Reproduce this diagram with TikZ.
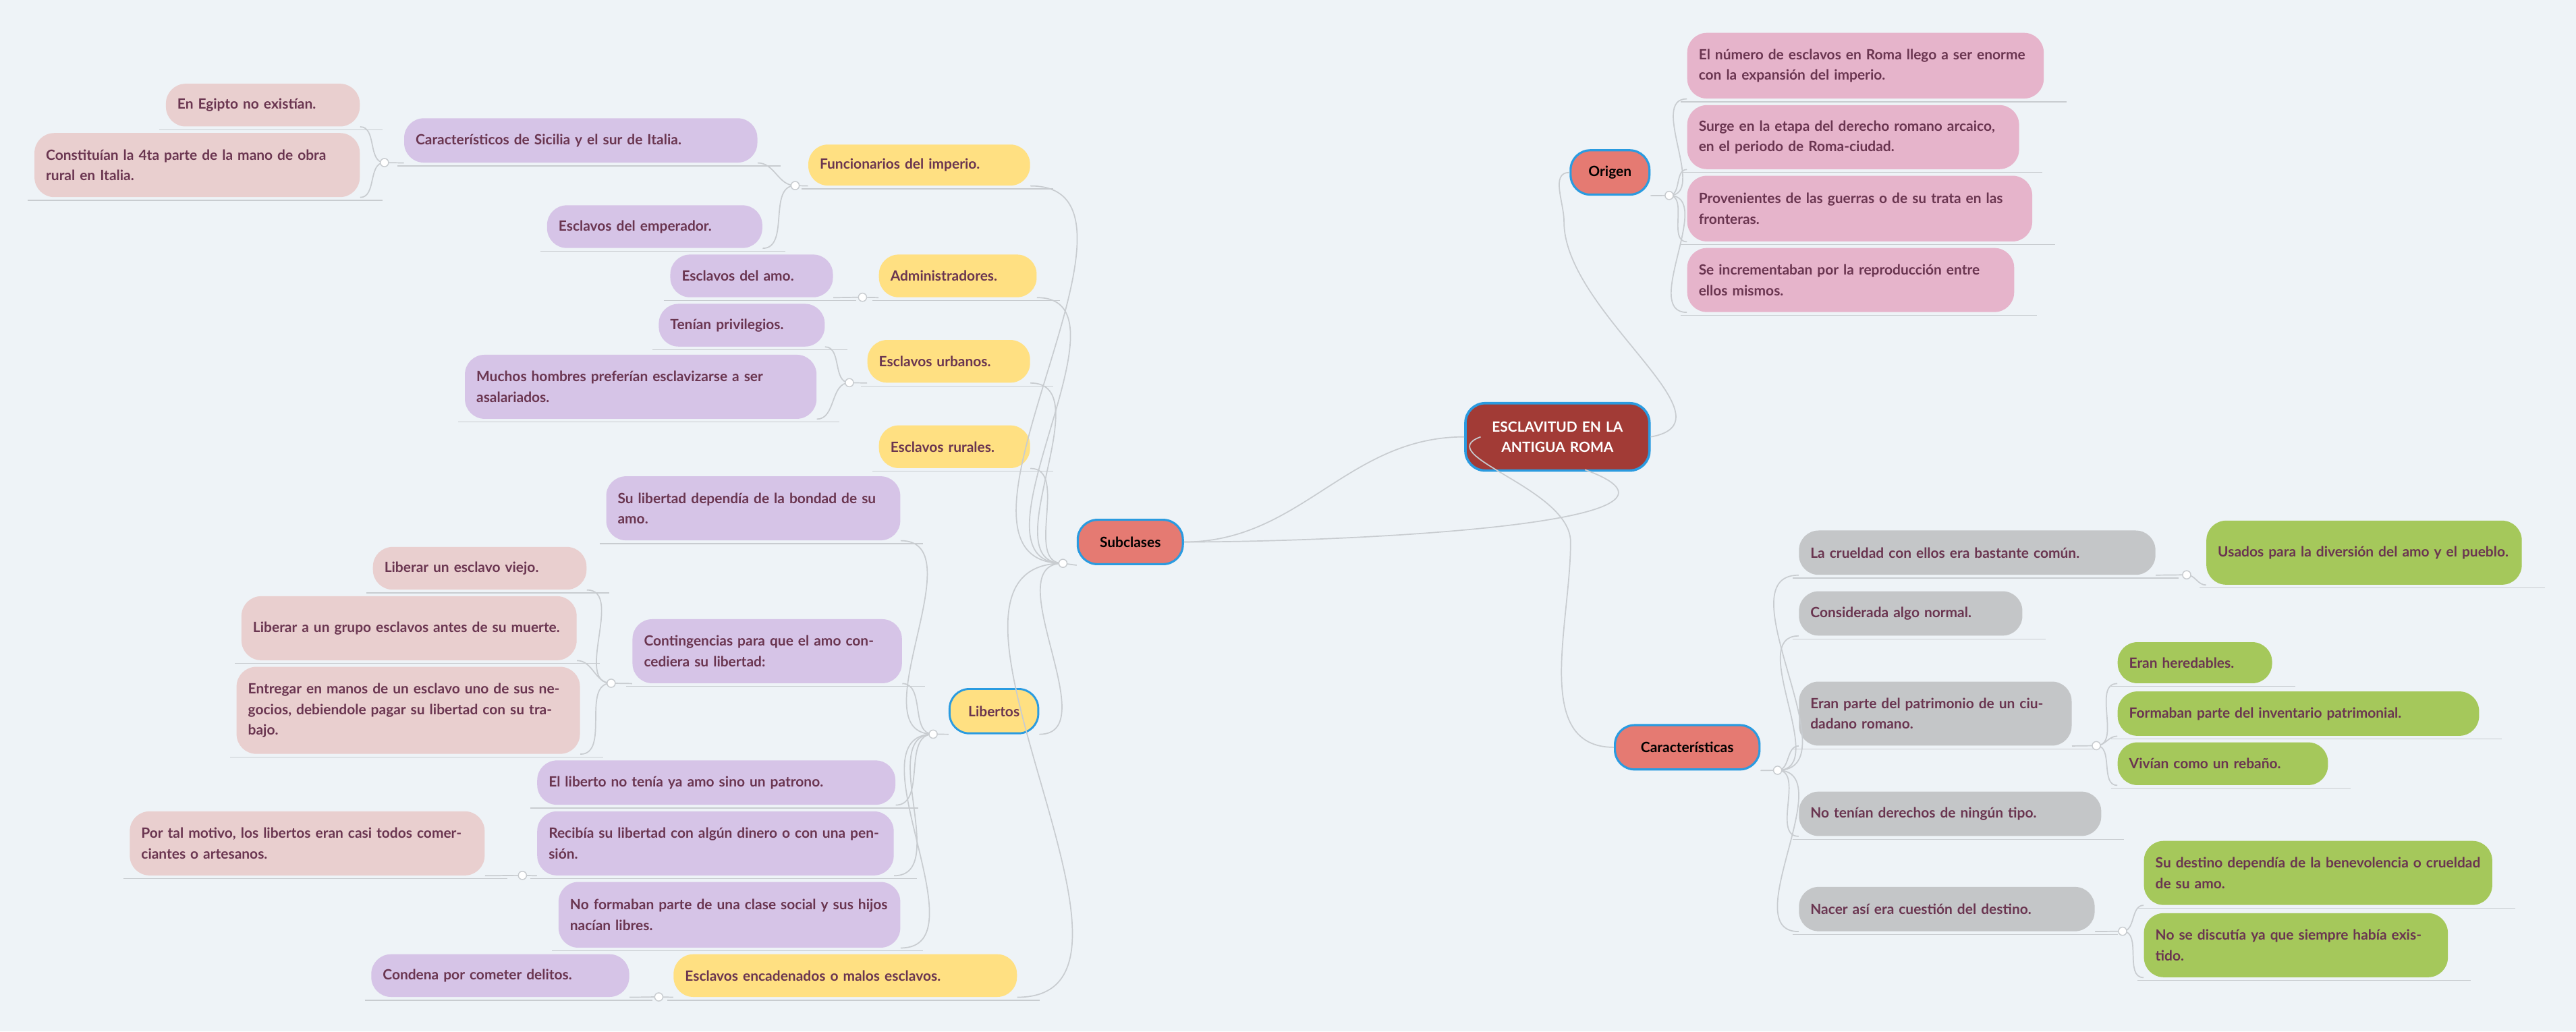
\documentclass[tikz,border=0pt]{standalone}
\usepackage{fontspec}
\setmainfont{Lato}
\begin{document}
\definecolor{bg}{HTML}{EEF3F7}
\definecolor{tx}{HTML}{6A3550}
\definecolor{cpink}{HTML}{E6B4CB}
\definecolor{cpur}{HTML}{D6C4E7}
\definecolor{cyel}{HTML}{FFE082}
\definecolor{cbei}{HTML}{E9CFCF}
\definecolor{cgray}{HTML}{C4C6C8}
\definecolor{cgrn}{HTML}{A5C85B}
\definecolor{csal}{HTML}{E57A72}
\definecolor{cblue}{HTML}{2A9BE0}
\definecolor{ccen}{HTML}{A23B36}
\definecolor{ln}{HTML}{C8CCD0}
\begin{tikzpicture}[x=1pt,y=-1pt,
 box/.style={rounded corners=12pt,inner sep=0pt,align=left,text=tx,font=\fontsize{8.6}{12.5}\selectfont\bfseries},
 l1/.style={box,fill=csal,draw=cblue,line width=1.3pt,text=black,align=center},
 conn/.style={draw=ln,line width=0.7pt},
 jn/.style={circle,draw=ln,fill=white,line width=0.6pt,minimum size=5pt,inner sep=0pt}]
\fill[bg] (0,0) rectangle (1568,628);
\useasboundingbox (0,0) rectangle (1568,628);
\newcommand\nd[7]{%
 \pgfmathsetmacro\tw{#4-#2-14}%
 \node[box,fill=#6,minimum width={(#4-#2)*1pt},minimum height={(#5-#3)*1pt},text width=\tw pt] (#1) at ({(#2+#4)/2},{(#3+#5)/2}) {#7};
 \draw[ln,line width=0.5pt] (#2-4,#5+2) -- (#4+14,#5+2);}
\newcommand\jl[3]{\draw[conn] (#1) to[out=0,in=180] (#2.south west);}
\newcommand\jr[3]{\draw[conn] (#1) to[out=180,in=0] (#2.south east);}
% central
\node[box,fill=ccen,draw=cblue,line width=1.5pt,text=white,align=center,minimum width=112pt,minimum height=41pt,text width=100pt] (c) at (948,266) {ESCLAVITUD EN LA\\ANTIGUA ROMA};
\node[l1,minimum width=48pt,minimum height=27pt] (o) at (980,105) {Origen};
\node[l1,minimum width=88pt,minimum height=27pt] (k) at (1027,455) {Características};
\node[l1,minimum width=64pt,minimum height=27pt] (s) at (688,330) {Subclases};
\draw[conn] (c.south) ++(0,0) (c.east) ++(-40,20) to[out=-20,in=0] (s.east);
\draw[conn] (c.west) to[out=180,in=0] (s.east);
\draw[conn] (c.east) to[out=10,in=-90] (952,135) to[out=90,in=180] (o.west);
\draw[conn] (c.east) ++(0,0) (c.west) ++(10,0) to[out=200,in=90] (956,330) to[out=-90,in=180] (k.west);
% Origen
\nd{o1}{1027}{20}{1244}{60}{cpink}{El número de esclavos en Roma llego a ser enorme con la expansión del imperio.}
\nd{o2}{1027}{64}{1229}{103}{cpink}{Surge en la etapa del derecho romano arcaico, en el periodo de Roma-ciudad.}
\nd{o3}{1027}{107}{1237}{147}{cpink}{Provenientes de las guerras o de su trata en las fronteras.}
\nd{o4}{1027}{151}{1226}{190}{cpink}{Se incrementaban por la reproducción entre ellos mismos.}
\coordinate (jo) at (1016,119);
\draw[conn] (o.south east) -- (jo);
\foreach \n in {o1,o2,o3,o4} {\jl{jo}{\n}{}}
\node[jn] at (jo) {};
% Caracteristicas
\nd{k1}{1095}{323}{1312}{350}{cgray}{La crueldad con ellos era bastante común.}
\nd{k2}{1095}{360}{1231}{387}{cgray}{Considerada algo normal.}
\nd{k3}{1095}{415}{1261}{454}{cgray}{Eran parte del patrimonio de un ciudadano romano.}
\nd{k4}{1095}{482}{1279}{509}{cgray}{No tenían derechos de ningún tipo.}
\nd{k5}{1095}{540}{1275}{567}{cgray}{Nacer así era cuestión del destino.}
\coordinate (jk) at (1082,469);
\draw[conn] (k.south east) -- (jk);
\foreach \n in {k1,k2,k3,k4,k5} {\jl{jk}{\n}{}}
\node[jn] at (jk) {};
\nd{g1}{1343}{317}{1535}{356}{cgrn}{Usados para la diversión del amo y el pueblo.}
\coordinate (jk1) at (1331,350);
\draw[conn] (k1.south east) -- (jk1); \jl{jk1}{g1}{}
\node[jn] at (jk1) {};
\nd{g2}{1289}{391}{1383}{416}{cgrn}{Eran heredables.}
\nd{g3}{1289}{421}{1509}{448}{cgrn}{Formaban parte del inventario patrimonial.}
\nd{g4}{1289}{452}{1417}{478}{cgrn}{Vivían como un rebaño.}
\coordinate (jk3) at (1276,454);
\draw[conn] (k3.south east) -- (jk3);
\foreach \n in {g2,g3,g4} {\jl{jk3}{\n}{}}
\node[jn] at (jk3) {};
\nd{g5}{1305}{512}{1517}{551}{cgrn}{Su destino dependía de la benevolencia o crueldad de su amo.}
\nd{g6}{1305}{556}{1490}{595}{cgrn}{No se discutía ya que siempre había existido.}
\coordinate (jk5) at (1292,567);
\draw[conn] (k5.south east) -- (jk5);
\foreach \n in {g5,g6} {\jl{jk5}{\n}{}}
\node[jn] at (jk5) {};
% Subclases
\nd{y1}{492}{88}{627}{113}{cyel}{Funcionarios del imperio.}
\nd{y2}{535}{155}{631}{181}{cyel}{Administradores.}
\nd{y3}{528}{207}{627}{233}{cyel}{Esclavos urbanos.}
\nd{y4}{535}{259}{627}{285}{cyel}{Esclavos rurales.}
\node[box,fill=cyel,draw=cblue,line width=1.2pt,minimum width=54pt,minimum height=27pt,align=center] (y5) at (605,433) {Libertos};
\nd{y6}{410}{581}{619}{607}{cyel}{Esclavos encadenados o malos esclavos.}
\coordinate (js) at (647,343);
\draw[conn] (s.south west) -- (js);
\foreach \n in {y1,y2,y3,y4,y5,y6} {\jr{js}{\n}{}}
\node[jn] at (js) {};
% Funcionarios
\nd{p1}{246}{72}{461}{99}{cpur}{Característicos de Sicilia y el sur de Italia.}
\nd{p2}{333}{125}{464}{151}{cpur}{Esclavos del emperador.}
\coordinate (jy1) at (484,113);
\draw[conn] (y1.south west) -- (jy1);
\foreach \n in {p1,p2} {\jr{jy1}{\n}{}}
\node[jn] at (jy1) {};
\nd{b1}{101}{51}{219}{77}{cbei}{En Egipto no existían.}
\nd{b2}{21}{81}{219}{120}{cbei}{Constituían la 4ta parte de la mano de obra rural en Italia.}
\coordinate (jp1) at (234,99);
\draw[conn] (p1.south west) -- (jp1);
\foreach \n in {b1,b2} {\jr{jp1}{\n}{}}
\node[jn] at (jp1) {};
% Administradores
\nd{p3}{408}{155}{507}{181}{cpur}{Esclavos del amo.}
\coordinate (jy2) at (525,181);
\draw[conn] (y2.south west) -- (jy2); \jr{jy2}{p3}{}
\node[jn] at (jy2) {};
% Urbanos
\nd{p4}{401}{185}{502}{211}{cpur}{Tenían privilegios.}
\nd{p5}{283}{216}{497}{255}{cpur}{Muchos hombres preferían esclavizarse a ser asalariados.}
\coordinate (jy3) at (517,233);
\draw[conn] (y3.south west) -- (jy3);
\foreach \n in {p4,p5} {\jr{jy3}{\n}{}}
\node[jn] at (jy3) {};
% Libertos
\nd{q1}{369}{290}{548}{329}{cpur}{Su libertad dependía de la bondad de su amo.}
\nd{q2}{385}{377}{549}{416}{cpur}{Contingencias para que el amo concediera su libertad:}
\nd{q3}{327}{463}{545}{490}{cpur}{El liberto no tenía ya amo sino un patrono.}
\nd{q4}{327}{494}{544}{533}{cpur}{Recibía su libertad con algún dinero o con una pensión.}
\nd{q5}{340}{537}{548}{577}{cpur}{No formaban parte de una clase social y sus hijos nacían libres.}
\coordinate (jy5) at (568,447);
\draw[conn] (y5.south west) -- (jy5);
\foreach \n in {q1,q2,q3,q4,q5} {\jr{jy5}{\n}{}}
\node[jn] at (jy5) {};
\nd{b3}{227}{333}{357}{359}{cbei}{Liberar un esclavo viejo.}
\nd{b4}{147}{363}{351}{402}{cbei}{Liberar a un grupo esclavos antes de su muerte.}
\nd{b5}{144}{406}{353}{459}{cbei}{Entregar en manos de un esclavo uno de sus negocios, debiendole pagar su libertad con su trabajo.}
\coordinate (jq2) at (372,416);
\draw[conn] (q2.south west) -- (jq2);
\foreach \n in {b3,b4,b5} {\jr{jq2}{\n}{}}
\node[jn] at (jq2) {};
\nd{b6}{79}{494}{295}{533}{cbei}{Por tal motivo, los libertos eran casi todos comerciantes o artesanos.}
\coordinate (jq4) at (318,533);
\draw[conn] (q4.south west) -- (jq4); \jr{jq4}{b6}{}
\node[jn] at (jq4) {};
% Encadenados
\nd{p6}{226}{581}{383}{607}{cpur}{Condena por cometer delitos.}
\coordinate (jy6) at (401,607);
\draw[conn] (y6.south west) -- (jy6); \jr{jy6}{p6}{}
\node[jn] at (jy6) {};
\end{tikzpicture}
\end{document}
